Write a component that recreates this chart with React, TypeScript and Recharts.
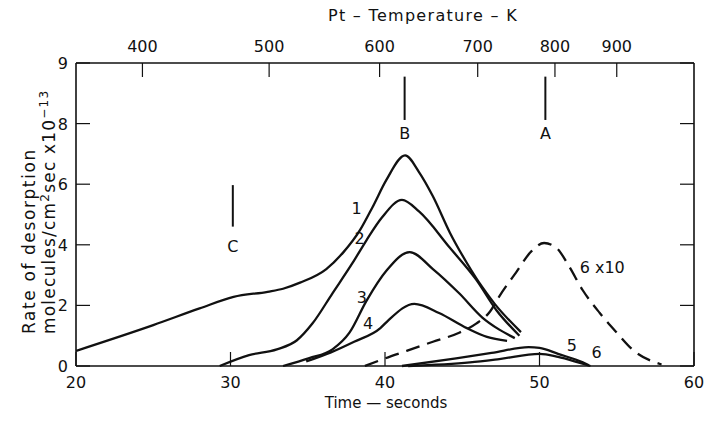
import { Line, LineChart, ReferenceDot, ReferenceLine, XAxis, YAxis } from 'recharts';

// rate of desorption (x10^-13 molecules/cm2 sec) against time (s)
const curve1 = [
  { t: 20, v: 0.5 }, { t: 25, v: 1.35 }, { t: 28, v: 1.9 }, { t: 30.2, v: 2.28 },
  { t: 32.4, v: 2.45 }, { t: 33.4, v: 2.55 }, { t: 34.5, v: 2.75 }, { t: 36.2, v: 3.2 },
  { t: 37.3, v: 3.75 }, { t: 38.4, v: 4.5 }, { t: 39.2, v: 5.25 }, { t: 40.1, v: 6.15 },
  { t: 41.3, v: 6.95 }, { t: 42.2, v: 6.4 }, { t: 43.1, v: 5.6 }, { t: 44.2, v: 4.4 },
  { t: 45.3, v: 3.4 }, { t: 46.3, v: 2.6 }, { t: 47.1, v: 2.05 }, { t: 48.8, v: 1.12 },
];
const curve2 = [
  { t: 29.3, v: 0 }, { t: 31.2, v: 0.36 }, { t: 33, v: 0.55 }, { t: 34.3, v: 0.85 },
  { t: 35.3, v: 1.4 }, { t: 36.6, v: 2.4 }, { t: 37.9, v: 3.4 }, { t: 38.8, v: 4.15 },
  { t: 39.8, v: 4.9 }, { t: 41.1, v: 5.48 }, { t: 42.2, v: 5.1 }, { t: 44.2, v: 3.9 },
  { t: 45.9, v: 2.85 }, { t: 47.2, v: 1.85 }, { t: 48.7, v: 1.0 },
];
const curve3 = [
  { t: 33.4, v: 0 }, { t: 35.1, v: 0.26 }, { t: 36.6, v: 0.55 }, { t: 37.7, v: 1.1 },
  { t: 38.8, v: 2.15 }, { t: 40.1, v: 3.15 }, { t: 41.6, v: 3.76 }, { t: 43.1, v: 3.2 },
  { t: 44.8, v: 2.4 }, { t: 46.3, v: 1.6 }, { t: 47.4, v: 1.2 }, { t: 48.4, v: 0.92 },
];
const curve4 = [
  { t: 34.9, v: 0.15 }, { t: 36.5, v: 0.45 }, { t: 38, v: 0.8 }, { t: 39.7, v: 1.25 },
  { t: 40.2, v: 1.5 }, { t: 41.9, v: 2.05 }, { t: 43.5, v: 1.75 }, { t: 45.3, v: 1.25 },
  { t: 46.6, v: 0.96 }, { t: 47.9, v: 0.83 },
];
const curve5 = [
  { t: 41.1, v: 0 }, { t: 44.6, v: 0.25 }, { t: 46.9, v: 0.43 }, { t: 49.3, v: 0.62 },
  { t: 50.0, v: 0.6 }, { t: 51.2, v: 0.4 }, { t: 52.8, v: 0.12 }, { t: 53.2, v: 0.02 },
];
const curve6 = [
  { t: 41.5, v: 0 }, { t: 45.5, v: 0.12 }, { t: 47.4, v: 0.23 }, { t: 50.0, v: 0.4 },
  { t: 51.2, v: 0.3 }, { t: 52.5, v: 0.12 }, { t: 53.3, v: 0 },
];
// curve 6 multiplied by 10 (dashed)
const curve6x10 = [
  { t: 38.7, v: 0 }, { t: 40, v: 0.25 }, { t: 41.4, v: 0.5 }, { t: 43.1, v: 0.8 },
  { t: 44.8, v: 1.1 }, { t: 45.9, v: 1.4 }, { t: 46.8, v: 1.8 }, { t: 47.4, v: 2.3 },
  { t: 48.5, v: 3.1 }, { t: 49.5, v: 3.8 }, { t: 50.3, v: 4.06 }, { t: 51.1, v: 3.9 },
  { t: 51.9, v: 3.3 }, { t: 52.8, v: 2.5 }, { t: 53.9, v: 1.75 }, { t: 55, v: 1.1 },
  { t: 56, v: 0.55 }, { t: 57.9, v: 0.05 },
];

const timeTicks = [20, 30, 40, 50, 60];
const rateTicks = [0, 2, 4, 6, 8, 10];
const rateTickLabels = ['0', '2', '4', '6', '8', '9'];
const tempTickTimes = [24.3, 32.5, 39.65, 46.0, 51.0, 55.0];
const tempTickLabels = ['400', '500', '600', '700', '800', '900'];

const curveLabels = [
  { t: 38.16, v: 5.2, text: '1' },
  { t: 38.36, v: 4.22, text: '2' },
  { t: 38.5, v: 2.28, text: '3' },
  { t: 38.9, v: 1.42, text: '4' },
  { t: 52.1, v: 0.69, text: '5' },
  { t: 53.7, v: 0.46, text: '6' },
];
const markers = [
  { t: 41.27, lo: 8.12, hi: 9.55, labelV: 7.69, text: 'B' },
  { t: 50.38, lo: 8.12, hi: 9.55, labelV: 7.69, text: 'A' },
  { t: 30.15, lo: 4.6, hi: 5.97, labelV: 3.96, text: 'C' },
];

const INK = '#111';
const FONT = '"DejaVu Sans", sans-serif';
const TICK = 14;

function BottomTick({ x, y, payload }: any) {
  return (
    <g>
      <line x1={x} x2={x} y1={y} y2={y - TICK} stroke={INK} strokeWidth={1.2} />
      <text x={x} y={y + 22} textAnchor="middle" fontSize={16} fontFamily={FONT} fill={INK}>{payload.value}</text>
    </g>
  );
}

function TopTick({ x, y, payload }: any) {
  const i = tempTickTimes.indexOf(payload.value);
  return (
    <g>
      <line x1={x} x2={x} y1={y} y2={y + TICK} stroke={INK} strokeWidth={1.2} />
      <text x={x} y={y - 11} textAnchor="middle" fontSize={16} fontFamily={FONT} fill={INK}>{tempTickLabels[i]}</text>
    </g>
  );
}

function LeftTick({ x, y, payload }: any) {
  const i = rateTicks.indexOf(payload.value);
  return (
    <g>
      <line x1={x} x2={x + TICK} y1={y} y2={y} stroke={INK} strokeWidth={1.2} />
      <text x={x - 8} y={y + 6} textAnchor="end" fontSize={16} fontFamily={FONT} fill={INK}>{rateTickLabels[i]}</text>
    </g>
  );
}

function RightTick({ x, y }: any) {
  return <line x1={x} x2={x - TICK} y1={y} y2={y} stroke={INK} strokeWidth={1.2} />;
}

const textAt = (text: string, anchor: 'middle' | 'start' = 'middle') => (p: any) => (
  <text x={p.cx} y={p.cy + 6} textAnchor={anchor} fontSize={16} fontFamily={FONT} fill={INK}>{text}</text>
);

const line = { type: 'monotone' as const, dataKey: 'v', stroke: INK, strokeWidth: 2.3, dot: false, isAnimationActive: false };
const axisLine = { stroke: INK, strokeWidth: 1.6 };

export default function App() {
  return (
    <div style={{ position: 'absolute', left: 0, top: 0, width: 706, height: 423, background: '#fff' }}>
      <LineChart width={706} height={423} margin={{ top: 62, right: 11, bottom: 56, left: 75 }}>
        <XAxis
          dataKey="t"
          type="number"
          domain={[20, 60]}
          ticks={timeTicks}
          interval={0}
          allowDataOverflow
          height={1}
          tickSize={0}
          tickMargin={0}
          tickLine={false}
          tick={BottomTick}
          axisLine={axisLine}
        />
        <XAxis
          xAxisId="top"
          orientation="top"
          dataKey="t"
          type="number"
          domain={[20, 60]}
          ticks={tempTickTimes}
          interval={0}
          allowDataOverflow
          height={1}
          tickSize={0}
          tickMargin={0}
          tickLine={false}
          tick={TopTick}
          axisLine={axisLine}
        />
        <YAxis
          type="number"
          domain={[0, 10]}
          ticks={rateTicks}
          interval={0}
          width={1}
          tickSize={0}
          tickMargin={0}
          tickLine={false}
          tick={LeftTick}
          axisLine={axisLine}
        />
        <YAxis
          yAxisId="right"
          orientation="right"
          type="number"
          domain={[0, 10]}
          ticks={rateTicks}
          interval={0}
          width={1}
          tickSize={0}
          tickMargin={0}
          tickLine={false}
          tick={RightTick}
          axisLine={axisLine}
        />
        {/* curve 1 is tied to the temperature axis, which shares the 20-60 s domain */}
        <Line {...line} data={curve1} xAxisId="top" />
        <Line {...line} data={curve2} />
        <Line {...line} data={curve3} />
        <Line {...line} data={curve4} />
        <Line {...line} data={curve5} />
        <Line {...line} data={curve6} />
        <Line {...line} data={curve6x10} yAxisId="right" strokeDasharray="14 8" />
        {markers.map((m) => (
          <ReferenceLine key={m.text} segment={[{ x: m.t, y: m.lo }, { x: m.t, y: m.hi }]} stroke={INK} strokeWidth={2} />
        ))}
        {markers.map((m) => (
          <ReferenceDot key={'l' + m.text} x={m.t} y={m.labelV} r={0} shape={textAt(m.text)} />
        ))}
        {curveLabels.map((c) => (
          <ReferenceDot key={'c' + c.text + c.t} x={c.t} y={c.v} r={0} shape={textAt(c.text)} />
        ))}
        <ReferenceDot x={52.6} y={3.27} r={0} shape={textAt('6 x10', 'start')} />
      </LineChart>
      <svg width={706} height={423} style={{ position: 'absolute', left: 0, top: 0, pointerEvents: 'none' }}>
        <text x={423} y={21} textAnchor="middle" fontSize={16} letterSpacing={1.3} fontFamily={FONT} fill={INK}>Pt – Temperature – K</text>
        <text x={386} y={408} textAnchor="middle" fontSize={15} fontFamily={FONT} fill={INK}>Time — seconds</text>
        <text transform="rotate(-90)" x={-334} y={35} textAnchor="start" fontSize={17} letterSpacing={1.6} fontFamily={FONT} fill={INK}>Rate of desorption</text>
        <text transform="rotate(-90)" x={-334} y={55} textAnchor="start" fontSize={17} letterSpacing={1.2} fontFamily={FONT} fill={INK}>
          molecules/cm<tspan dy={-6} fontSize={12}>2</tspan><tspan dy={6}>sec x10</tspan><tspan dy={-7} fontSize={12}>−13</tspan>
        </text>
      </svg>
    </div>
  );
}
